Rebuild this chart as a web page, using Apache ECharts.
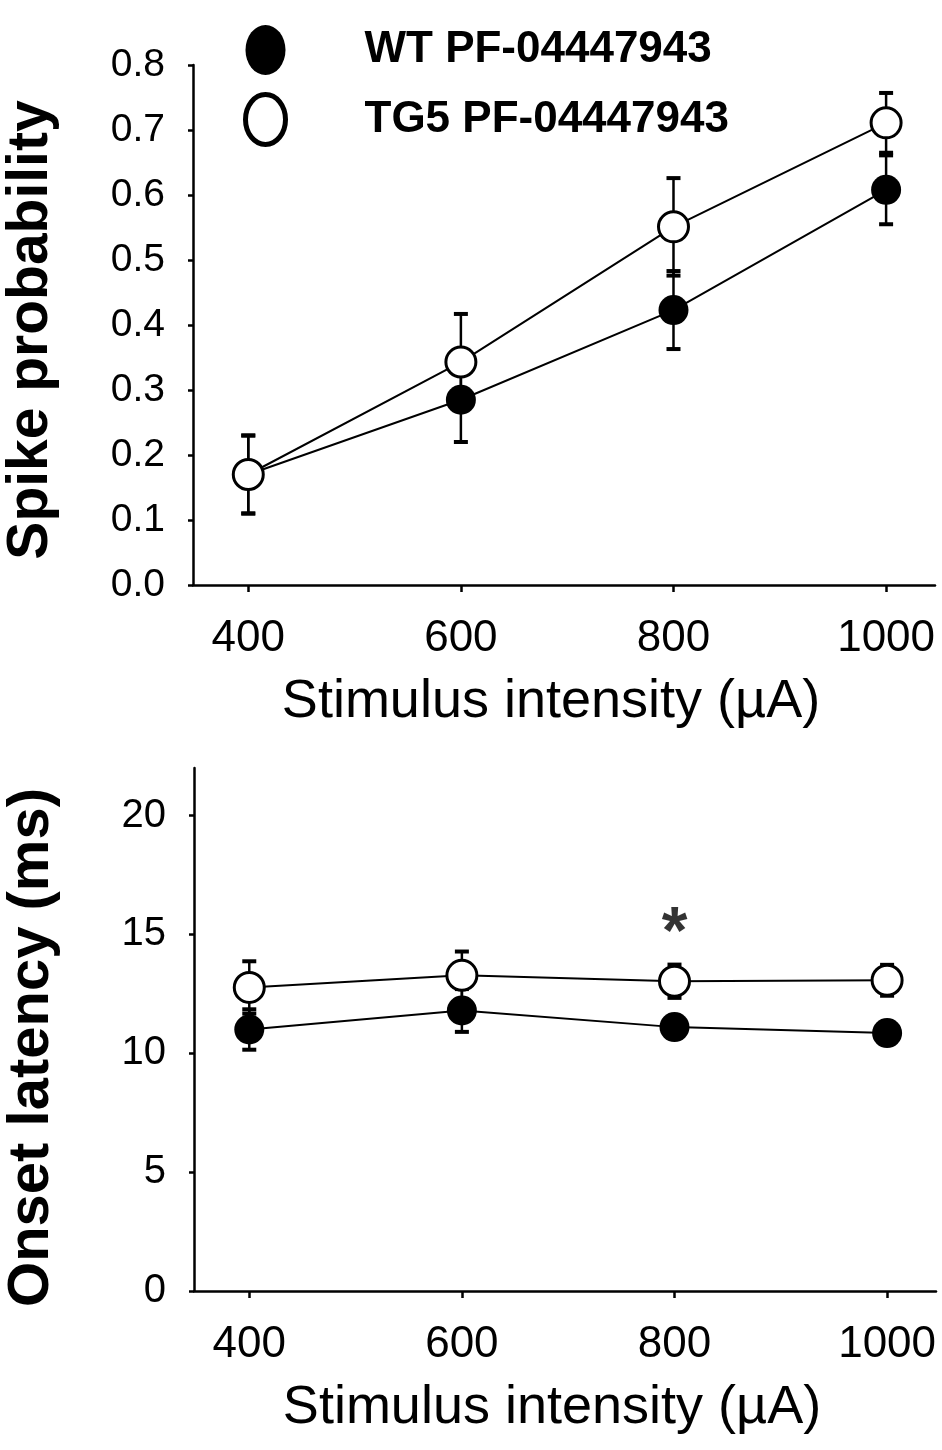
<!DOCTYPE html>
<html>
<head>
<meta charset="utf-8">
<script src="https://cdn.jsdelivr.net/npm/echarts@6/dist/echarts.min.js"></script>
<style>
html, body { margin: 0; padding: 0; background: #fff; }
#graphContainer { width: 942px; height: 1450px; }
</style>
</head>
<body>
<div id="graphContainer"></div>
<script>
// stimulus intensities (uA)
var intensities = [400, 600, 800, 1000];
var xTickValues = [400, 600, 800, 1000];

// spike probability, mean and error
var wtSpike = [0.17, 0.285, 0.423, 0.608];
var wtSpikeErr = [0.06, 0.065, 0.06, 0.053];
var tgSpike = [0.17, 0.343, 0.551, 0.711];
var tgSpikeErr = [0.06, 0.074, 0.075, 0.046];

// onset latency (ms), mean and error
var wtLatency = [11.0, 11.8, 11.1, 10.85];
var wtLatencyErr = [0.85, 0.9, 0.4, 0.4];
var tgLatency = [12.77, 13.28, 13.03, 13.07];
var tgLatencyErr = [1.1, 1.0, 0.7, 0.65];

// significance mark
var sigX = [800];
var sigY = [15.0];

var latencyTicks = [0, 5, 10, 15, 20];

var wtName = 'WT PF-04447943';
var tgName = 'TG5 PF-04447943';
var font = '"Liberation Sans", Arial, sans-serif';
var ellipse = 'path://M0,50 A50,50 0 1,0 100,50 A50,50 0 1,0 0,50 Z';

function errData(mean, err) {
	var out = [];
	for (var i = 0; i < intensities.length; i++) {
		out.push([intensities[i], mean[i] - err[i], mean[i] + err[i]]);
	}
	return out;
}

function pairs(ys) {
	return intensities.map(function (x, i) { return [x, ys[i]]; });
}

function errorBarItem(params, api) {
	var x = api.value(0);
	var lo = api.coord([x, api.value(1)]);
	var hi = api.coord([x, api.value(2)]);
	var cap = 7;
	return {
		type: 'group',
		children: [
			{ type: 'line', shape: { x1: lo[0], y1: lo[1], x2: hi[0], y2: hi[1] }, style: { stroke: '#000', lineWidth: 2.5 } },
			{ type: 'line', shape: { x1: lo[0] - cap, y1: lo[1], x2: lo[0] + cap, y2: lo[1] }, style: { stroke: '#000', lineWidth: 4 } },
			{ type: 'line', shape: { x1: hi[0] - cap, y1: hi[1], x2: hi[0] + cap, y2: hi[1] }, style: { stroke: '#000', lineWidth: 4 } }
		]
	};
}

function xAxisFor(gridIndex) {
	return {
		gridIndex: gridIndex,
		type: 'value',
		min: 348,
		max: 1046,
		name: 'Stimulus intensity (\u00b5A)',
		nameLocation: 'middle',
		nameGap: 90,
		nameTextStyle: { fontSize: 54, color: '#000', fontFamily: font, padding: [0, 26, 0, 0] },
		axisLine: { show: true, onZero: false, lineStyle: { color: '#000', width: 2.5 } },
		axisTick: { show: true, customValues: xTickValues, length: 7, lineStyle: { color: '#000', width: 2.5 } },
		axisLabel: {
			customValues: xTickValues, fontSize: 44, color: '#000', margin: 32, fontFamily: font,
			formatter: function (value) { return String(value); }
		},
		splitLine: { show: false }
	};
}

function lineSeries(name, data, gridIndex, filled) {
	return {
		name: name,
		type: 'line',
		xAxisIndex: gridIndex,
		yAxisIndex: gridIndex,
		data: data,
		symbol: 'circle',
		symbolSize: 30,
		z: 3,
		lineStyle: { color: '#000', width: 2 },
		itemStyle: filled ? { color: '#000' } : { color: '#fff', borderColor: '#000', borderWidth: 3 }
	};
}

function errSeries(data, gridIndex) {
	return {
		type: 'custom',
		xAxisIndex: gridIndex,
		yAxisIndex: gridIndex,
		renderItem: errorBarItem,
		encode: { x: 0, y: [1, 2] },
		data: data,
		z: 2,
		silent: true
	};
}

var dom = document.getElementById('graphContainer');
var myEChart = echarts.init(dom, null, { renderer: 'canvas' });

var option = {
	animation: false,
	backgroundColor: '#fff',
	grid: [
		{ left: 193, top: 65, width: 742, height: 520, containLabel: false, outerBoundsMode: 'none' },
		{ left: 194, top: 768, width: 742, height: 523, containLabel: false, outerBoundsMode: 'none' }
	],
	legend: {
		orient: 'vertical',
		left: 238,
		top: 20,
		itemWidth: 40,
		itemHeight: 50,
		itemGap: 17,
		symbolKeepAspect: false,
		selectedMode: false,
		textStyle: { fontSize: 44, fontWeight: 'bold', color: '#000', fontFamily: font, padding: [0, 0, 0, 74] },
		data: [
			{ name: wtName, icon: ellipse, itemStyle: { color: '#000', borderWidth: 0 } },
			{ name: tgName, icon: ellipse, itemStyle: { color: '#fff', borderColor: '#000', borderWidth: 5 } }
		]
	},
	xAxis: [xAxisFor(0), xAxisFor(1)],
	yAxis: [
		{
			gridIndex: 0,
			type: 'value',
			min: 0,
			max: 0.8,
			interval: 0.1,
			name: 'Spike probability',
			nameLocation: 'middle',
			nameGap: 133,
			nameTextStyle: { fontSize: 57, fontWeight: 'bold', color: '#000', fontFamily: font, padding: [0, 10, 0, 0] },
			axisLine: { show: true, lineStyle: { color: '#000', width: 2.5 } },
			axisTick: { show: true, length: 5, lineStyle: { color: '#000', width: 2.5 } },
			axisLabel: {
				fontSize: 39, color: '#000', margin: 28, fontFamily: font,
				formatter: function (value) { return value.toFixed(1); }
			},
			splitLine: { show: false }
		},
		{
			gridIndex: 1,
			type: 'value',
			min: 0,
			max: 22,
			name: 'Onset latency (ms)',
			nameLocation: 'middle',
			nameGap: 133,
			nameTextStyle: { fontSize: 58, fontWeight: 'bold', color: '#000', fontFamily: font, padding: [0, 36, 0, 0] },
			axisLine: { show: true, lineStyle: { color: '#000', width: 2.5 } },
			axisTick: { show: true, customValues: latencyTicks, length: 5, lineStyle: { color: '#000', width: 2.5 } },
			axisLabel: { customValues: latencyTicks, fontSize: 40, color: '#000', margin: 28, fontFamily: font },
			splitLine: { show: false }
		}
	],
	series: [
		errSeries(errData(wtSpike, wtSpikeErr), 0),
		errSeries(errData(tgSpike, tgSpikeErr), 0),
		lineSeries(wtName, pairs(wtSpike), 0, true),
		lineSeries(tgName, pairs(tgSpike), 0, false),
		errSeries(errData(wtLatency, wtLatencyErr), 1),
		errSeries(errData(tgLatency, tgLatencyErr), 1),
		lineSeries(wtName, pairs(wtLatency), 1, true),
		lineSeries(tgName, pairs(tgLatency), 1, false),
		{
			type: 'scatter',
			xAxisIndex: 1,
			yAxisIndex: 1,
			data: sigX.map(function (x, i) { return [x, sigY[i]]; }),
			symbolSize: 1,
			itemStyle: { color: 'rgba(0,0,0,0)' },
			silent: true,
			label: {
				show: true,
				position: 'inside',
				formatter: '*',
				fontSize: 66,
				fontWeight: 'bold',
				color: '#000',
				fontFamily: font
			}
		}
	]
};

myEChart.setOption(option);
window.addEventListener('resize', myEChart.resize);
</script>
</body>
</html>
